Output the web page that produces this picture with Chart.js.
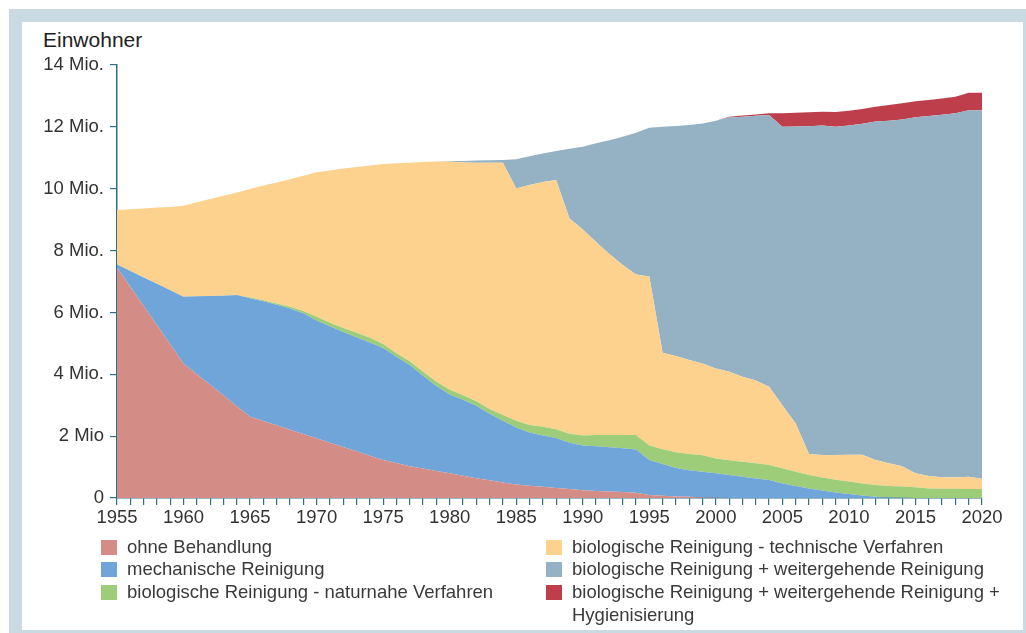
<!DOCTYPE html>
<html lang="de">
<head>
  <meta charset="UTF-8">
  <title>Abwasserbehandlung – Einwohner</title>
  <script src="https://cdn.jsdelivr.net/npm/chart.js"></script>
  <style>
    body {
      margin: 0;
      background: #fff;
      font-family: 'Liberation Sans', Arial, sans-serif;
      color: #333;
    }
    /* hellblauer Rahmen */
    #frame {
      position: absolute;
      left: 9px;
      top: 9px;
      width: 1001px;
      height: 608px;
      border: 13px solid #c9dae3;
    }
    #wrap {
      position: absolute;
      left: 0;
      top: 0;
      width: 1026px;
      height: 633px;
      overflow: hidden;
    }
    #title {
      position: absolute;
      left: 43px;
      top: 28px;
      font-size: 21px;
      color: #222;
    }
    canvas {
      position: absolute;
      left: 0;
      top: 0;
    }
    .leg {
      position: absolute;
      font-size: 18.5px;
      line-height: 22.5px;
      color: #3a3a3a;
    }
    .leg span.sw {
      position: absolute;
      left: -26px;
      top: 4px;
      width: 16px;
      height: 15px;
    }
  </style>
</head>
<body>
  <div id="wrap">
    <div id="frame"></div>
    <div id="title">Einwohner</div>
    <canvas id="chart" width="1026" height="633"></canvas>
    <div id="legend"></div>
  </div>

  <script>
    // Jahre 1955 - 2020
    const years = [1955, 1956, 1957, 1958, 1959, 1960, 1961, 1962, 1963, 1964,
      1965, 1966, 1967, 1968, 1969, 1970, 1971, 1972, 1973, 1974,
      1975, 1976, 1977, 1978, 1979, 1980, 1981, 1982, 1983, 1984,
      1985, 1986, 1987, 1988, 1989, 1990, 1991, 1992, 1993, 1994,
      1995, 1996, 1997, 1998, 1999, 2000, 2001, 2002, 2003, 2004,
      2005, 2006, 2007, 2008, 2009, 2010, 2011, 2012, 2013, 2014,
      2015, 2016, 2017, 2018, 2019, 2020];

    // Einwohner in Mio. je Behandlungsart
    const ohneBehandlung = [7.45, 6.83, 6.21, 5.59, 4.97, 4.35, 4.0, 3.66, 3.32, 2.97,
      2.63, 2.49, 2.35, 2.21, 2.07, 1.93, 1.79, 1.65, 1.51, 1.37,
      1.23, 1.13, 1.03, 0.95, 0.87, 0.80, 0.72, 0.64, 0.57, 0.50,
      0.44, 0.40, 0.36, 0.32, 0.29, 0.25, 0.23, 0.21, 0.19, 0.17,
      0.10, 0.07, 0.05, 0.04, 0.02, 0.01, 0, 0, 0, 0,
      0, 0, 0, 0, 0, 0, 0, 0, 0, 0,
      0, 0, 0, 0, 0, 0];
    const mechanisch = [0.10, 0.51, 0.92, 1.34, 1.75, 2.16, 2.52, 2.87, 3.22, 3.59,
      3.83, 3.87, 3.90, 3.92, 3.90, 3.81, 3.76, 3.72, 3.69, 3.66,
      3.62, 3.44, 3.27, 3.00, 2.75, 2.55, 2.46, 2.34, 2.15, 2.00,
      1.84, 1.72, 1.66, 1.62, 1.50, 1.45, 1.44, 1.43, 1.42, 1.40,
      1.13, 1.03, 0.92, 0.86, 0.83, 0.79, 0.74, 0.69, 0.63, 0.58,
      0.47, 0.39, 0.31, 0.24, 0.18, 0.13, 0.08, 0.04, 0.02, 0.01,
      0, 0, 0, 0, 0, 0];
    const naturnah = [0, 0, 0, 0, 0, 0, 0, 0, 0, 0,
      0.02, 0.03, 0.04, 0.05, 0.08, 0.12, 0.12, 0.13, 0.14, 0.15,
      0.13, 0.11, 0.12, 0.13, 0.14, 0.15, 0.14, 0.15, 0.16, 0.18,
      0.22, 0.24, 0.28, 0.28, 0.29, 0.32, 0.37, 0.40, 0.43, 0.47,
      0.47, 0.48, 0.51, 0.52, 0.53, 0.48, 0.48, 0.48, 0.49, 0.49,
      0.49, 0.46, 0.43, 0.42, 0.41, 0.40, 0.39, 0.38, 0.37, 0.36,
      0.35, 0.31, 0.30, 0.30, 0.29, 0.29];
    const technisch = [1.76, 2.00, 2.23, 2.46, 2.69, 2.94, 3.04, 3.14, 3.23, 3.32,
      3.51, 3.71, 3.91, 4.13, 4.37, 4.67, 4.92, 5.15, 5.36, 5.57,
      5.82, 6.14, 6.42, 6.78, 7.12, 7.38, 7.53, 7.71, 7.96, 8.16,
      7.51, 7.76, 7.92, 8.06, 6.96, 6.66, 6.24, 5.85, 5.49, 5.19,
      5.46, 3.12, 3.11, 3.04, 2.97, 2.91, 2.86, 2.75, 2.68, 2.53,
      2.04, 1.56, 0.68, 0.73, 0.80, 0.87, 0.93, 0.81, 0.73, 0.66,
      0.45, 0.40, 0.37, 0.36, 0.40, 0.33];
    const weitergehend = [0, 0, 0, 0, 0, 0, 0, 0, 0, 0,
      0, 0, 0, 0, 0, 0, 0, 0, 0, 0,
      0, 0, 0, 0, 0, 0.02, 0.05, 0.07, 0.08, 0.09,
      0.94, 0.93, 0.92, 0.94, 2.25, 2.68, 3.19, 3.68, 4.15, 4.58,
      4.81, 7.30, 7.44, 7.60, 7.76, 8.01, 8.22, 8.41, 8.56, 8.78,
      9.00, 9.60, 10.60, 10.65, 10.61, 10.64, 10.70, 10.94, 11.08, 11.21,
      11.51, 11.64, 11.72, 11.78, 11.85, 11.92];
    const hygienisierung = [0, 0, 0, 0, 0, 0, 0, 0, 0, 0,
      0, 0, 0, 0, 0, 0, 0, 0, 0, 0,
      0, 0, 0, 0, 0, 0, 0, 0, 0, 0,
      0, 0, 0, 0, 0, 0, 0, 0, 0, 0,
      0, 0, 0, 0, 0, 0, 0.03, 0.04, 0.04, 0.06,
      0.44, 0.45, 0.45, 0.45, 0.48, 0.48, 0.48, 0.48, 0.51, 0.52,
      0.52, 0.52, 0.53, 0.53, 0.56, 0.56];

    const seriesNames = [
      'ohne Behandlung',
      'mechanische Reinigung',
      'biologische Reinigung - naturnahe Verfahren',
      'biologische Reinigung - technische Verfahren',
      'biologische Reinigung + weitergehende Reinigung',
      'biologische Reinigung + weitergehende Reinigung + Hygienisierung'
    ];
    const seriesColors = ['#d48c86', '#6fa5d8', '#9dcd78', '#fcd28e', '#94b2c3', '#be3f4b'];
    const seriesData = [ohneBehandlung, mechanisch, naturnah, technisch, weitergehend, hygienisierung];

    const yTickValues = [0, 2, 4, 6, 8, 10, 12, 14];
    const yTickLabels = ['0', '2 Mio', '4 Mio.', '6 Mio.', '8 Mio.', '10 Mio.', '12 Mio.', '14 Mio.'];

    const axisColor = '#2e6f8a';
    const tickFont = { family: "'Liberation Sans', Arial, sans-serif", size: 18.5 };

    const datasets = seriesData.map(function (d, i) {
      return {
        label: seriesNames[i],
        data: d,
        backgroundColor: seriesColors[i],
        borderWidth: 0,
        pointRadius: 0,
        tension: 0,
        fill: i === 0 ? 'origin' : '-1'
      };
    });

    new Chart(document.getElementById('chart'), {
      type: 'line',
      data: { labels: years, datasets: datasets },
      options: {
        responsive: false,
        animation: false,
        layout: { padding: { left: 0, top: 65, right: 44, bottom: 0 } },
        plugins: { legend: { display: false }, tooltip: { enabled: false } },
        scales: {
          x: {
            offset: false,
            grid: { drawOnChartArea: false, offset: false, color: axisColor, tickLength: 7, lineWidth: 1.2 },
            border: { color: axisColor, width: 1.5 },
            ticks: {
              autoSkip: false,
              maxRotation: 0,
              color: '#333',
              font: tickFont,
              padding: 2,
              callback: function (v, i) { return years[i] % 5 === 0 ? String(years[i]) : ''; }
            },
            afterFit: function (s) { s.height = 135; }
          },
          y: {
            stacked: true,
            min: 0,
            max: 14,
            grid: { drawOnChartArea: false, color: axisColor, tickLength: 7, lineWidth: 1.2 },
            border: { color: axisColor, width: 1.5 },
            afterBuildTicks: function (s) { s.ticks = yTickValues.map(function (v) { return { value: v }; }); },
            ticks: {
              color: '#333',
              font: tickFont,
              padding: 6,
              callback: function (v) { return yTickLabels[yTickValues.indexOf(v)]; }
            },
            afterFit: function (s) { s.width = 117; }
          }
        }
      }
    });

    // Legende in zwei Spalten
    const legendPos = [
      [127, 536], [127, 558], [127, 581],
      [572, 536], [572, 558], [572, 581]
    ];
    const legend = document.getElementById('legend');
    seriesNames.forEach(function (name, i) {
      const el = document.createElement('div');
      el.className = 'leg';
      el.style.left = legendPos[i][0] + 'px';
      el.style.top = legendPos[i][1] + 'px';
      if (i === 5) {
        el.style.width = '440px';
      }
      el.innerHTML = '<span class="sw" style="background:' + seriesColors[i] + '"></span>' + name;
      legend.appendChild(el);
    });
  </script>
</body>
</html>
